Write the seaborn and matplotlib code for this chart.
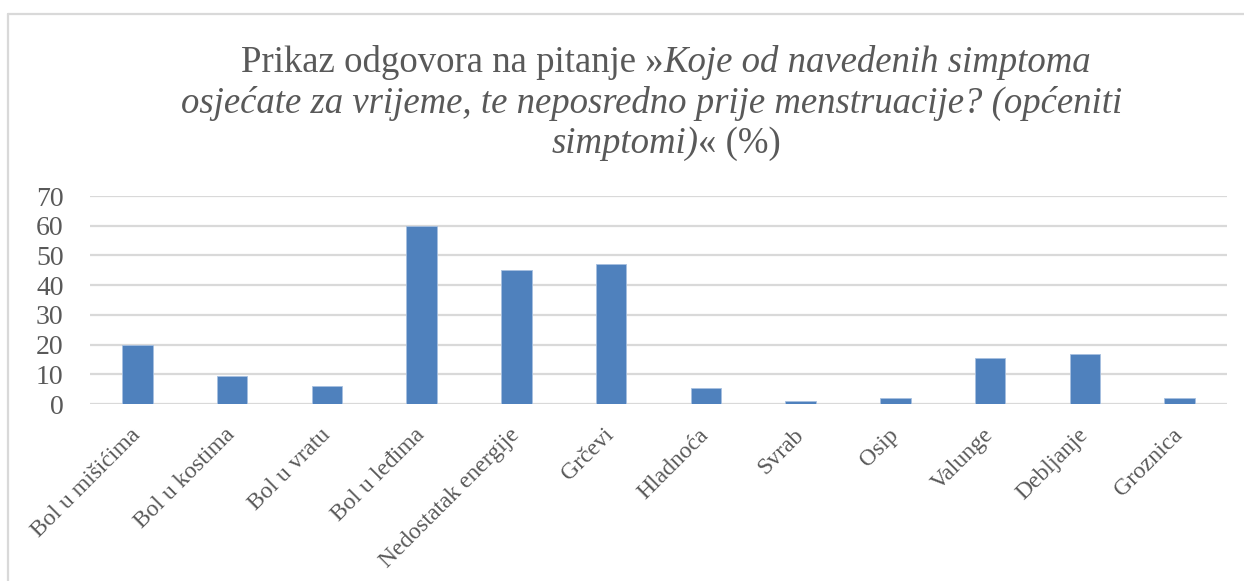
import matplotlib
matplotlib.use("Agg")
import matplotlib.pyplot as plt
import seaborn as sns
import pandas as pd
from matplotlib.lines import Line2D

# data
symptoms = ['Bol u mišićima', 'Bol u kostima', 'Bol u vratu', 'Bol u leđima',
            'Nedostatak energije', 'Grčevi', 'Hladnoća', 'Svrab', 'Osip',
            'Valunge', 'Debljanje', 'Groznica']
percent = [20.0, 9.3, 6.2, 59.8, 45.2, 47.2, 5.3, 1.0, 1.9, 15.5, 16.8, 1.9]
y_ticks = [0, 10, 20, 30, 40, 50, 60, 70]

title_l1 = [('Prikaz odgovora na pitanje »', 'normal'), ('Koje od navedenih simptoma', 'italic')]
title_l2 = [('osjećate za vrijeme, te neposredno prije menstruacije? (općeniti', 'italic')]
title_l3 = [('simptomi)', 'italic'), ('« (%)', 'normal')]

sns.set_theme(style='white')
plt.rcParams['font.family'] = ['Liberation Serif', 'DejaVu Serif']

txt = '#595959'
grid_c = '#D9D9D9'
bar_c = '#4F81BD'

W, H = 1244, 581
fig = plt.figure(figsize=(W / 100, H / 100), dpi=100)
ax = fig.add_axes([90 / W, 1 - 404 / H, (1227 - 90) / W, (404 - 196) / H])

df = pd.DataFrame({'symptom': symptoms, 'percent': percent})
sns.barplot(data=df, x='symptom', y='percent', color=bar_c, width=0.32,
            edgecolor='#A7C0E0', linewidth=0.6, saturation=1, ax=ax, zorder=3)

ax.set_ylim(0, 70)
ax.set_xlim(-0.5, len(symptoms) - 0.5)
ax.set_yticks(y_ticks)
ax.yaxis.grid(True, color=grid_c, linewidth=1.6, zorder=0)
ax.set_axisbelow(True)
for s in ax.spines.values():
    s.set_visible(False)
ax.set_xlabel('')
ax.set_ylabel('')
ax.tick_params(axis='y', length=0, pad=19, labelsize=20, labelcolor=txt)
ax.tick_params(axis='x', length=0, pad=20, labelsize=17, labelcolor=txt)
plt.setp(ax.get_xticklabels(), rotation=45, ha='right', va='center', rotation_mode='anchor')

# title with mixed upright / italic pieces, centred line by line
renderer = fig.canvas.get_renderer()
centres = [666, 652, 666]
baselines = [72, 113, 153]
for parts, yb, cx in zip([title_l1, title_l2, title_l3], baselines, centres):
    objs = []
    for s, st in parts:
        t = fig.text(0, 1 - yb / H, s, fontsize=26.5, style=st, color=txt, va='baseline', ha='left')
        objs.append(t)
    widths = [t.get_window_extent(renderer).width for t in objs]
    x = cx - sum(widths) / 2
    for t, w in zip(objs, widths):
        t.set_x(x / W)
        x += w

# chart frame
fig.add_artist(Line2D([8 / W, 8 / W], [0, 1 - 14 / H], color=grid_c, lw=1.6, transform=fig.transFigure))
fig.add_artist(Line2D([8 / W, 1], [1 - 14 / H, 1 - 14 / H], color=grid_c, lw=1.6, transform=fig.transFigure))

fig.savefig('out.png', dpi=100, facecolor='white')
